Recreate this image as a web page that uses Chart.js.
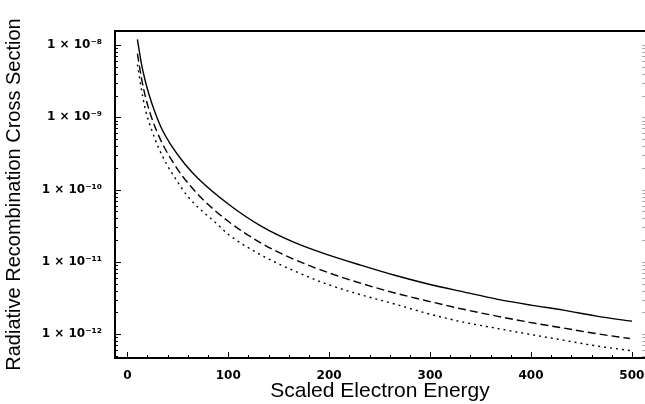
<!DOCTYPE html>
<html><head><meta charset="utf-8">
<script src="https://cdn.jsdelivr.net/npm/chart.js@4.4.1/dist/chart.umd.min.js"></script>
<style>html,body{margin:0;padding:0;background:#fff;overflow:hidden}canvas{display:block}</style>
</head><body>
<canvas id="c" width="645" height="404"></canvas>
<script>
// Scaled electron energy (x) and radiative recombination cross section (y)
const solidX  = [10,14,17.5,21.8,27.5,34.1,44,57.2,70.4,100,133,166,199,232,265,300,333,366,400,432,465,500];
const solidY  = [1.20e-8,5.50e-9,3.31e-9,2.00e-9,1.16e-9,6.92e-10,3.98e-10,2.24e-10,1.41e-10,6.31e-11,3.09e-11,1.84e-11,1.245e-11,8.91e-12,6.50e-12,4.84e-12,3.83e-12,3.04e-12,2.51e-12,2.14e-12,1.77e-12,1.50e-12];
const dashedX = [10,14.3,17.5,22.5,29.1,37.4,47.3,55.5,73.3,100,133,166,199,232,265,300,333,366,400,432,465,498];
const dashedY = [7.59e-9,3.31e-9,2.04e-9,1.148e-9,6.46e-10,3.67e-10,2.16e-10,1.48e-10,7.67e-11,3.63e-11,1.80e-11,1.07e-11,7.08e-12,5.01e-12,3.70e-12,2.81e-12,2.20e-12,1.77e-12,1.44e-12,1.21e-12,1.01e-12,8.67e-13];
const dottedX = [10,15.3,18.5,24.2,30.7,39,47.3,60.2,89.9,100,133,166,199,232,265,300,333,366,400,432,465,500];
const dottedY = [5.37e-9,1.92e-9,1.19e-9,6.64e-10,3.86e-10,2.24e-10,1.445e-10,7.94e-11,3.24e-11,2.40e-11,1.23e-11,7.41e-12,4.84e-12,3.47e-12,2.60e-12,1.88e-12,1.46e-12,1.20e-12,9.84e-13,8.22e-13,6.84e-13,5.86e-13];

const xTicks = [0,100,200,300,400,500];
const yTicks = [1e-12,1e-11,1e-10,1e-9,1e-8];
const yTickLabels = ['1 × 10⁻¹²','1 × 10⁻¹¹','1 × 10⁻¹⁰','1 × 10⁻⁹','1 × 10⁻⁸'];
const xTitle = 'Scaled Electron Energy';
const yTitle = 'Radiative Recombination Cross Section';

const pts = (xs, ys) => xs.map((v, i) => ({x: v, y: ys[i]}));

const frame = {
  id: 'frame',
  afterDraw(chart) {
    const {ctx, chartArea: {left, right, top, bottom}, scales: {x, y}} = chart;
    ctx.save();
    ctx.strokeStyle = '#000';
    ctx.lineWidth = 2;
    ctx.beginPath();
    ctx.moveTo(right + 2, top); ctx.lineTo(left, top); ctx.lineTo(left, bottom); ctx.lineTo(right + 2, bottom);
    ctx.stroke();
    ctx.lineWidth = 1;
    ctx.beginPath();
    for (let v = 0; v <= 500; v += 20) {
      const px = Math.round(x.getPixelForValue(v)) + 0.5;
      const len = v % 100 === 0 ? 6 : 3;
      ctx.moveTo(px, bottom); ctx.lineTo(px, bottom - len);
    }
    for (let e = -13; e <= -8; e++) {
      for (let m = 1; m <= 9; m++) {
        const val = m * Math.pow(10, e);
        if (val < y.min || val > y.max) continue;
        const py = Math.round(y.getPixelForValue(val)) + 0.5;
        const len = m === 1 ? 6 : 3;
        ctx.moveTo(left, py); ctx.lineTo(left + len, py);
      }
    }
    ctx.stroke();
    ctx.strokeStyle = '#aaa';
    ctx.beginPath();
    for (let e = -13; e <= -8; e++) {
      for (let m = 1; m <= 9; m++) {
        const val = m * Math.pow(10, e);
        if (val < y.min || val > y.max) continue;
        const py = Math.round(y.getPixelForValue(val)) + 0.5;
        ctx.moveTo(642, py); ctx.lineTo(645, py);
      }
    }
    ctx.stroke();
    ctx.restore();
  }
};

const line = (data, dash) => ({
  data, borderColor: '#000', borderWidth: 1.4, borderDash: dash,
  pointRadius: 0, fill: false, cubicInterpolationMode: 'monotone'
});

new Chart(document.getElementById('c'), {
  type: 'line',
  data: {
    datasets: [
      line(pts(solidX, solidY), []),
      line(pts(dashedX, dashedY), [8, 4]),
      line(pts(dottedX, dottedY), [2, 4])
    ]
  },
  options: {
    responsive: false,
    devicePixelRatio: 1,
    animation: false,
    layout: {padding: {top: 31, right: 0, left: 0, bottom: 0}},
    plugins: {legend: {display: false}, tooltip: {enabled: false}},
    scales: {
      x: {
        type: 'linear', position: 'bottom', min: -12.2, max: 513,
        afterFit: s => { s.height = 46; s.paddingLeft = 0; s.paddingRight = 0; },
        afterBuildTicks: s => { s.ticks = xTicks.map(v => ({value: v})); },
        grid: {display: false, drawTicks: false},
        border: {display: false},
        ticks: {padding: 11, color: '#000', maxRotation: 0, autoSkip: false,
                font: {family: 'DejaVu Sans', weight: 'bold', size: 12}},
        title: {display: true, text: xTitle, color: '#000', padding: {top: 1.5, bottom: 0},
                font: {family: 'Liberation Sans', size: 21}}
      },
      y: {
        type: 'logarithmic', position: 'left', min: Math.pow(10, -12.332), max: Math.pow(10, -7.806),
        afterFit: s => { s.width = 115; s.paddingTop = 0; s.paddingBottom = 0; },
        afterBuildTicks: s => { s.ticks = yTicks.map(v => ({value: v})); },
        grid: {display: false, drawTicks: false},
        border: {display: false},
        ticks: {padding: 13, color: '#000', autoSkip: false,
                callback: (v) => { const i = yTicks.findIndex(t => Math.abs(t - v) / t < 1e-6); return i >= 0 ? yTickLabels[i] : ''; },
                font: {family: 'DejaVu Sans', weight: 'bold', size: 12}},
        title: {display: true, text: yTitle, color: '#000', padding: {top: 2, bottom: 0},
                font: {family: 'Liberation Sans', size: 20}}
      }
    }
  },
  plugins: [frame]
});
</script>
</body></html>
